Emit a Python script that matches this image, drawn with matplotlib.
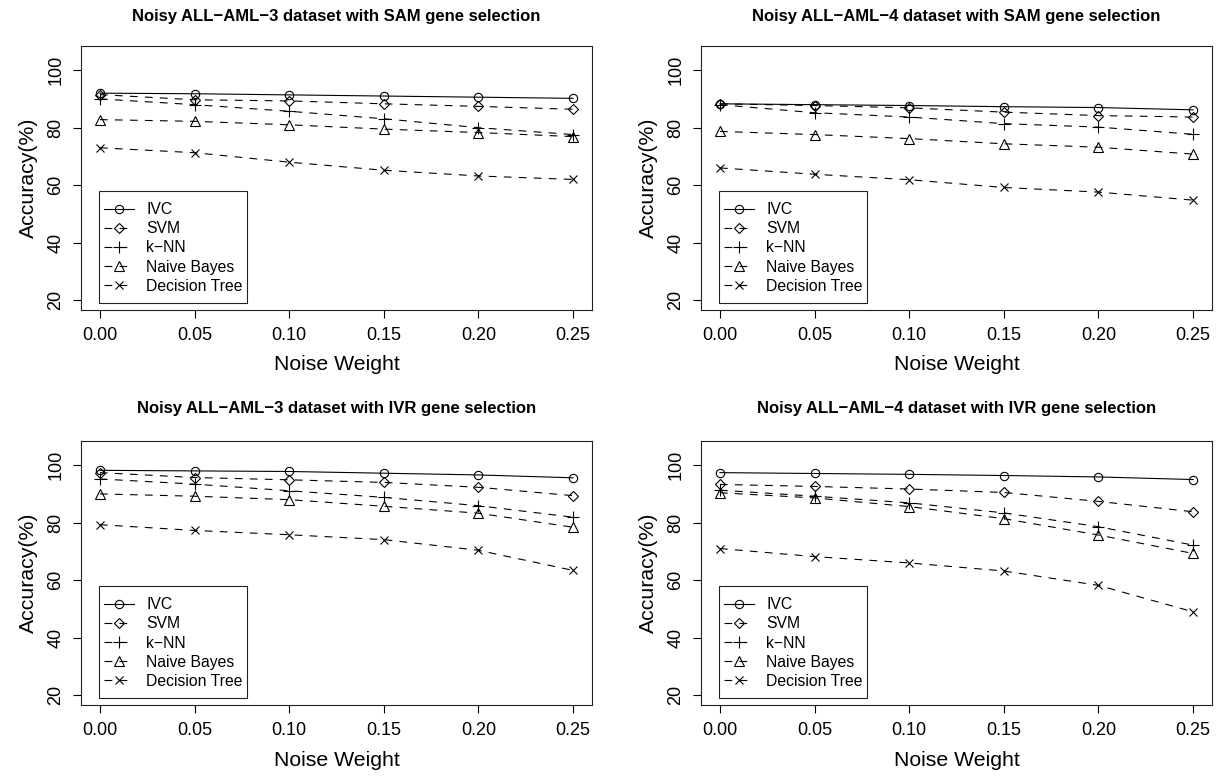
import matplotlib
matplotlib.use("Agg")
import matplotlib.pyplot as plt
from matplotlib.patches import Rectangle

plt.rcParams['font.family'] = ['Liberation Sans', 'DejaVu Sans']

noise = [0.00, 0.05, 0.10, 0.15, 0.20, 0.25]
xticks = [0.00, 0.05, 0.10, 0.15, 0.20, 0.25]
xtick_labels = ["0.00", "0.05", "0.10", "0.15", "0.20", "0.25"]
yticks = [20, 40, 60, 80, 100]
methods = ["IVC", "SVM", "k\u2212NN", "Naive Bayes", "Decision Tree"]

titles = [
    "Noisy ALL\u2212AML\u22123 dataset with SAM gene selection",
    "Noisy ALL\u2212AML\u22124 dataset with SAM gene selection",
    "Noisy ALL\u2212AML\u22123 dataset with IVR gene selection",
    "Noisy ALL\u2212AML\u22124 dataset with IVR gene selection",
]

# Panel 1: ALL-AML-3, SAM
p1_ivc = [92.0, 91.8, 91.4, 91.0, 90.6, 90.2]
p1_svm = [91.5, 89.7, 89.3, 88.3, 87.4, 86.4]
p1_knn = [90.0, 88.0, 85.7, 83.1, 80.0, 77.6]
p1_nb = [82.8, 82.2, 81.0, 79.5, 78.3, 76.9]
p1_dt = [73.0, 71.3, 68.0, 65.2, 63.2, 62.0]

# Panel 2: ALL-AML-4, SAM
p2_ivc = [88.3, 88.0, 87.7, 87.3, 87.0, 86.2]
p2_svm = [88.3, 87.7, 86.9, 85.4, 84.2, 83.7]
p2_knn = [88.0, 85.2, 83.7, 81.4, 80.2, 77.7]
p2_nb = [78.7, 77.6, 76.2, 74.4, 73.2, 70.8]
p2_dt = [66.0, 63.8, 61.9, 59.2, 57.6, 54.8]

# Panel 3: ALL-AML-3, IVR
p3_ivc = [98.2, 98.0, 97.8, 97.2, 96.6, 95.6]
p3_svm = [97.4, 95.7, 94.9, 94.0, 92.3, 89.4]
p3_knn = [95.2, 93.4, 91.1, 88.8, 85.9, 81.9]
p3_nb = [90.0, 89.2, 88.0, 85.7, 83.3, 78.4]
p3_dt = [79.3, 77.3, 75.8, 74.1, 70.4, 63.4]

# Panel 4: ALL-AML-4, IVR
p4_ivc = [97.4, 97.1, 96.8, 96.4, 95.9, 95.0]
p4_svm = [93.3, 92.6, 91.7, 90.5, 87.4, 83.8]
p4_knn = [91.3, 89.2, 86.9, 83.4, 78.6, 72.2]
p4_nb = [90.4, 88.6, 85.6, 81.4, 75.7, 69.3]
p4_dt = [71.0, 68.2, 66.0, 63.2, 58.2, 49.0]

panels = [
    [p1_ivc, p1_svm, p1_knn, p1_nb, p1_dt],
    [p2_ivc, p2_svm, p2_knn, p2_nb, p2_dt],
    [p3_ivc, p3_svm, p3_knn, p3_nb, p3_dt],
    [p4_ivc, p4_svm, p4_knn, p4_nb, p4_dt],
]

styles = [
    dict(marker='o', ms=6, linestyle='-'),
    dict(marker='D', ms=5.5, linestyle='--'),
    dict(marker='+', ms=9, linestyle='--'),
    dict(marker='^', ms=7, linestyle='--'),
    dict(marker='x', ms=6, linestyle='--'),
]

W, H = 1220, 776
fig = plt.figure(figsize=(W / 100, H / 100), dpi=100)

# axes pixel boxes: (left, top, right, bottom)
boxes = [
    (81, 46, 592, 310),
    (701, 46, 1212, 310),
    (81, 441, 592, 705),
    (701, 441, 1212, 705),
]
title_y = [17, 17, 409, 409]
AW, AH = 511, 264

for i, (box, series) in enumerate(zip(boxes, panels)):
    l, t, r, b = box
    ax = fig.add_axes([l / W, 1 - b / H, (r - l) / W, (b - t) / H])
    for name, vals, st in zip(methods, series, styles):
        kw = dict(color='black', lw=0.8, mfc='none', mec='black', mew=0.8,
                  marker=st['marker'], ms=st['ms'], label=name)
        if st['linestyle'] == '--':
            kw['dashes'] = (7, 6.5)
        else:
            kw['linestyle'] = '-'
        ax.plot(noise, vals, **kw)
    ax.set_xlim(-0.01, 0.26)
    ax.set_ylim(16.6, 108.4)
    ax.set_xticks(xticks)
    ax.set_xticklabels(xtick_labels)
    ax.set_yticks(yticks)
    ax.set_yticklabels([str(v) for v in yticks], rotation=90, va='center')
    ax.tick_params(axis='both', direction='out', length=6, width=0.8,
                   labelsize=13, colors='black')
    ax.tick_params(axis='x', pad=6)
    ax.tick_params(axis='y', pad=6)
    for sp in ax.spines.values():
        sp.set_linewidth(0.8)
        sp.set_color('#222222')
    ax.text(0.5, (310 - 365) / AH, "Noise Weight", transform=ax.transAxes,
            ha='center', va='center', fontsize=15.3)
    ax.text((28 - 81) / AW, 0.5, "Accuracy(%)", transform=ax.transAxes,
            ha='center', va='center', rotation=90, fontsize=15.3)
    fig.text((l + r) / 2 / W, 1 - title_y[i] / H, titles[i], ha='center',
             va='center', fontsize=12, fontweight='bold')
    # legend frame
    fx0, fx1, fy0, fy1 = 99, 247, 191, 303
    ax.add_patch(Rectangle(((fx0 - 81) / AW, (310 - fy1) / AH),
                           (fx1 - fx0) / AW, (fy1 - fy0) / AH,
                           transform=ax.transAxes, fill=True, fc='white',
                           ec='#222222', lw=0.8, zorder=4))
    leg = ax.legend(loc='center left',
                    bbox_to_anchor=((fx0 - 81) / AW, (310 - (fy0 + fy1) / 2 - 1) / AH),
                    borderaxespad=0, fontsize=11.3, handlelength=1.9,
                    handletextpad=0.8, labelspacing=0.265, borderpad=0.3,
                    frameon=False)
    leg.set_zorder(5)

fig.savefig("out.png", dpi=100)
